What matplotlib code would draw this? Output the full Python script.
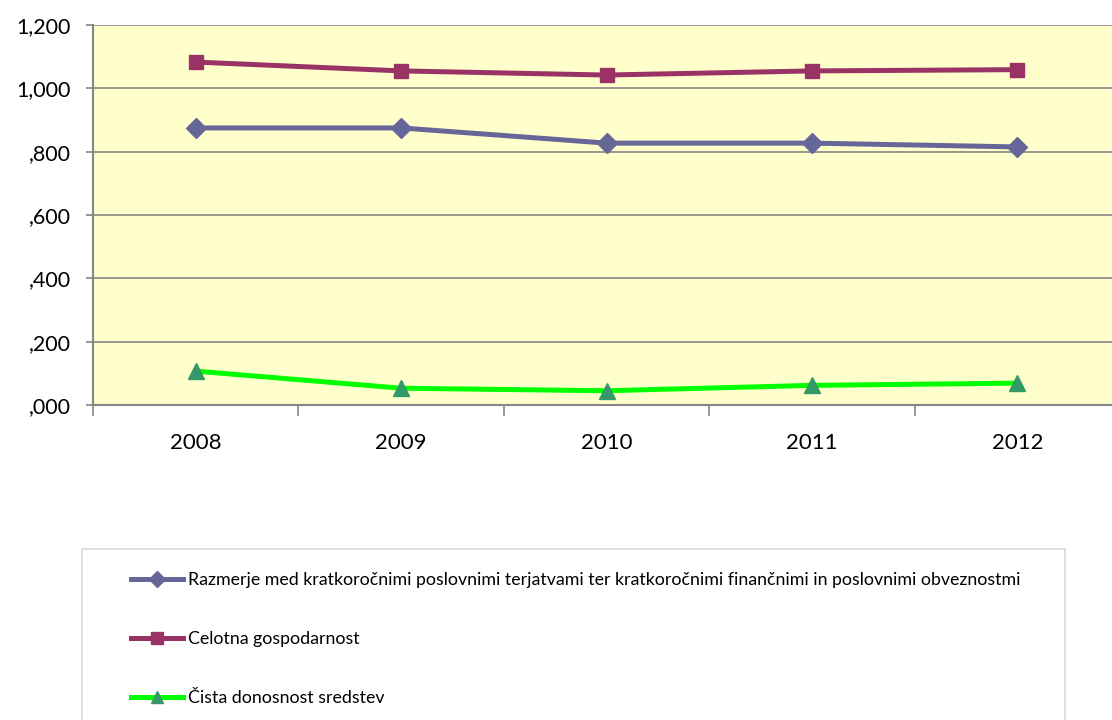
import matplotlib
matplotlib.use("Agg")
import matplotlib.pyplot as plt
from matplotlib.patches import Rectangle

years = ["2008", "2009", "2010", "2011", "2012"]
razmerje = [0.875, 0.875, 0.827, 0.827, 0.815]
celotna = [1.083, 1.055, 1.042, 1.055, 1.059]
cista = [0.107, 0.053, 0.045, 0.062, 0.069]
series_names = [
    "Razmerje med kratkoročnimi poslovnimi terjatvami ter kratkoročnimi finančnimi in poslovnimi obveznostmi",
    "Celotna gospodarnost",
    "Čista donosnost sredstev",
]
yticks = [0.0, 0.2, 0.4, 0.6, 0.8, 1.0, 1.2]
ytick_labels = [",000", ",200", ",400", ",600", ",800", "1,000", "1,200"]

plt.rcParams['font.family'] = ['Lato', 'DejaVu Sans']

fig = plt.figure(figsize=(11.12, 7.2), dpi=100)
W, H = 1112, 720
ax = fig.add_axes([93 / W, 1 - 405 / H, 1027 / W, 380 / H])
ax.set_facecolor("#FFFFCC")

x = list(range(len(years)))
lw = 3.6
ax.plot(x, razmerje, color="#666699", lw=lw, marker="D", ms=10, mec="#666699", mfc="#666699",
        label=series_names[0], zorder=3)
ax.plot(x, celotna, color="#993366", lw=lw, marker="s", ms=10, mec="#993366", mfc="#993366",
        label=series_names[1], zorder=3)
ax.plot(x, cista, color="#00FF00", lw=lw, marker="^", ms=11, mec="#339966", mfc="#339966",
        label=series_names[2], zorder=3)

ax.set_xlim(-0.5, len(years) - 0.5)
ax.set_ylim(0, 1.2)
ax.set_yticks(yticks)
ax.set_yticklabels(ytick_labels, fontsize=15.5)
ax.yaxis.grid(True, color="#868686", lw=1.2)
ax.set_axisbelow(True)

ax.set_xticks(x)
ax.set_xticklabels(years, fontsize=16)
ax.set_xticks([i + 0.5 for i in range(-1, len(years))], minor=True)
ax.tick_params(axis='x', which='major', length=0, pad=20)
ax.tick_params(axis='x', which='minor', length=8, color="#868686", width=1.2)
ax.tick_params(axis='y', length=5, color="#868686", width=1.2, pad=11)

for s in ["top", "right"]:
    ax.spines[s].set_visible(False)
for s in ["left", "bottom"]:
    ax.spines[s].set_color("#868686")
    ax.spines[s].set_linewidth(1.5)

# legend box
fig.patches.append(Rectangle((82 / W, -0.01), (1065 - 82) / W, 1 - 549 / H + 0.01,
                             transform=fig.transFigure, facecolor="white",
                             edgecolor="#D9D9D9", lw=1.2, zorder=0))
handles, labels = ax.get_legend_handles_labels()
leg = fig.legend(handles, labels, loc="upper left", bbox_to_anchor=(115 / W, 1 - 556 / H),
                 frameon=False, fontsize=12.8, labelspacing=2.42, handlelength=2.95,
                 handletextpad=0.25, markerscale=0.8)

fig.savefig("out.png", dpi=100)
